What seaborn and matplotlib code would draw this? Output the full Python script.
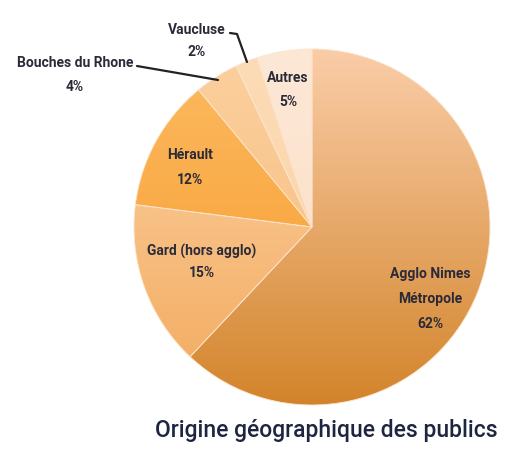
import numpy as np
import matplotlib
matplotlib.use("Agg")
import matplotlib.pyplot as plt
import seaborn as sns
from matplotlib.colors import LinearSegmentedColormap

sns.set_theme(style="white")
plt.rcParams['font.family'] = ['Roboto', 'DejaVu Sans']

categories = ["Agglo Nimes\nMétropole", "Gard (hors agglo)", "Hérault",
              "Bouches du Rhone", "Vaucluse", "Autres"]
values = [62, 15, 12, 4, 2, 5]
pct_labels = ["62%", "15%", "12%", "4%", "2%", "5%"]
title = "Origine géographique des publics"

# gradient colors (top, bottom) per slice
grad_top = ["#FACDA8", "#FDD4A6", "#FCBA62", "#FBD09E", "#FCDCB6", "#FDE8D6"]
grad_bot = ["#D3842A", "#F2AA5E", "#F79A28", "#F7BA78", "#FAD0A4", "#FCDCC2"]

W, H = 506, 450
fig = plt.figure(figsize=(W / 100, H / 100), dpi=100)
cx, cy, r = 312, 227, 178
ax = fig.add_axes([(cx - r) / W, (H - cy - r) / H, 2 * r / W, 2 * r / H])

wedges, _ = ax.pie(values, startangle=90, counterclock=False, radius=1,
                   colors=grad_bot,
                   wedgeprops=dict(edgecolor="#FCE3CC", linewidth=0.6))
ax.axis("off")

grad = np.linspace(0, 1, 256).reshape(-1, 1)
for w, ct, cb in zip(wedges, grad_top, grad_bot):
    cmap = LinearSegmentedColormap.from_list("g", [ct, cb])
    im = ax.imshow(grad, cmap=cmap, extent=(-1, 1, -1, 1), aspect="auto",
                   origin="upper", zorder=w.get_zorder() + 0.1)
    im.set_clip_path(w)
    w.set_zorder(w.get_zorder() + 0.2)
    w.set_facecolor("none")
ax.set_xlim(-1, 1)
ax.set_ylim(-1, 1)


def px(x, y):
    return ((x - cx) / r, (cy - y) / r)


txt_color = "#2A2A38"
lab_fs = 10
# Agglo
lines = categories[0].split("\n") + [pct_labels[0]]
for (x, y), t in zip([(430, 274), (430, 299), (430, 324)], lines):
    ax.text(*px(x, y), t, ha="center", va="center", fontsize=lab_fs,
            fontweight="bold", color=txt_color, zorder=10)

others = {
    1: [(202, 251), (202, 273)],
    2: [(190, 155), (190, 180)],
    3: [(75, 63), (75, 87)],
    4: [(197, 30), (197, 52)],
    5: [(288, 78), (288, 102)],
}
for i, ((x1, y1), (x2, y2)) in others.items():
    ax.text(*px(x1, y1), categories[i], ha="center", va="center", fontsize=lab_fs,
            fontweight="bold", color=txt_color, zorder=10)
    ax.text(*px(x2, y2), pct_labels[i], ha="center", va="center", fontsize=lab_fs,
            fontweight="bold", color=txt_color, zorder=10)

# leader lines
for pts in ([(137, 66), (218, 80)], [(230, 33), (237, 34), (247, 62)]):
    xs, ys = zip(*[px(x, y) for x, y in pts])
    ax.plot(xs, ys, color="#222222", lw=1.6, clip_on=False, zorder=10)

fig.text(326 / W, 1 - 430 / H, title, ha="center", va="center",
         fontsize=16.5, fontweight="medium", color="#1E2540")

fig.savefig("out.png", dpi=100)
